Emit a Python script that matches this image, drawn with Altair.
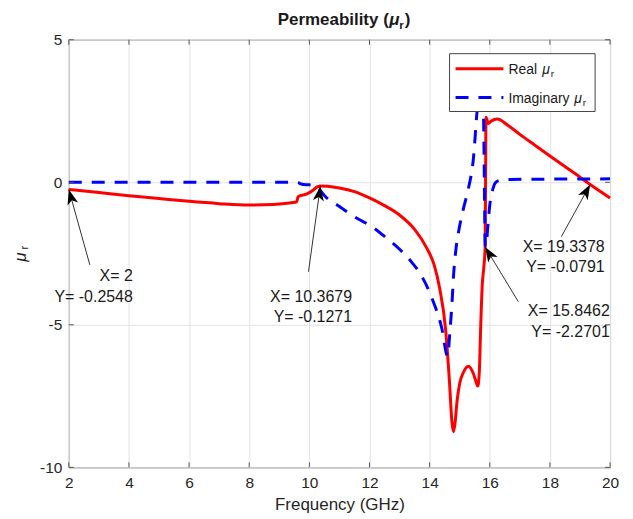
import math
import altair as alt
import pandas as pd

# ---------------- data ----------------
real_x = [2, 3, 4, 5, 6, 7, 8, 8.8, 9.4, 9.58, 9.62, 9.68, 9.9, 10.1, 10.25, 10.3679,
          10.6, 11, 11.5, 12, 12.5, 13, 13.5, 13.9, 14.15, 14.33, 14.53, 14.66, 14.74,
          14.79, 14.84, 14.91, 15.0, 15.11, 15.29, 15.45, 15.53, 15.6, 15.65, 15.7, 15.75,
          15.8, 15.8462, 15.86, 15.875, 15.95, 16.05, 16.25, 16.6, 17.0, 17.5, 18.0, 18.5,
          19.0, 19.3378, 20]
real_y = [-0.2548, -0.36, -0.47, -0.57, -0.67, -0.75, -0.8, -0.78, -0.72, -0.69, -0.52,
          -0.48, -0.42, -0.3, -0.17, -0.1271, -0.14, -0.2, -0.33, -0.55, -0.82, -1.15,
          -1.65, -2.3, -2.9, -3.7, -5.15, -7.0, -8.4, -8.75, -8.5, -7.7, -7.05, -6.7,
          -6.45, -6.7, -6.95, -7.15, -6.7, -5.0, -3.6, -3.0, -2.2701, 0.0, 2.28, 2.06,
          2.15, 2.22, 2.0, 1.68, 1.3, 0.92, 0.55, 0.18, -0.0791, -0.55]

imag_x = [2, 9.55, 9.65, 9.72, 9.8, 10.0, 10.2, 10.37, 10.53, 11.0, 11.64, 12.0, 12.5,
          13.0, 13.4, 13.74, 14.07, 14.4, 14.6, 14.67, 14.74, 14.8, 14.88, 14.96, 15.13,
          15.29, 15.46, 15.57, 15.66, 15.72, 15.78, 15.81, 15.83, 15.85, 15.88, 15.93,
          16.0, 16.1, 16.2, 16.35, 16.7, 18.0, 20.0]
imag_y = [0.0, 0.0, -0.02, -0.06, -0.08, -0.09, -0.13, -0.3, -0.5, -0.85, -1.3, -1.5,
          -1.9, -2.35, -2.8, -3.3, -4.05, -5.1, -6.1, -5.3, -4.3, -3.2, -2.3, -1.75,
          -0.9, -0.22, 0.88, 2.4, 3.4, 3.8, 3.0, 1.0, -1.0, -2.2, -2.25, -1.6, -0.8,
          -0.25, 0.0, 0.07, 0.1, 0.11, 0.12]

x_ticks = [2, 4, 6, 8, 10, 12, 14, 16, 18, 20]
y_ticks = [-10, -5, 0, 5]

# data tips
tip_x = [2, 10.3679, 19.3378, 15.8462]
tip_y = [-0.2548, -0.1271, -0.0791, -2.2701]
tail_x = [2.70, 9.97, 18.38, 16.95]
tail_y = [-2.90, -3.14, -1.91, -4.19]
label_x = [4.13, 11.42, 19.82, 19.99]
label1_y = [-3.29, -4.01, -2.26, -4.53]
label2_y = [-4.01, -4.71, -2.96, -5.27]
label1 = ["X= 2", "X= 10.3679", "X= 19.3378", "X= 15.8462"]
label2 = ["Y= -0.2548", "Y= -0.1271", "Y= -0.0791", "Y= -2.2701"]

# ---------------- layout ----------------
W, H = 543, 429
X0, X1, Y0, Y1 = 2, 20, -10, 5
FONT = "Liberation Sans"
AXC = "#555555"
LABEL_EXPR = "'' + datum.value"

xs = alt.Scale(domain=[X0, X1], nice=False, zero=False)
ys = alt.Scale(domain=[Y0, Y1], nice=False, zero=False)
xaxis = alt.Axis(values=x_ticks, title="Frequency (GHz)", grid=True, tickSize=0,
                 domain=False, labelPadding=8, titlePadding=6, labelFlush=False,
                 labelOverlap=False, labelExpr=LABEL_EXPR)
yaxis = alt.Axis(values=y_ticks, title="", grid=True, tickSize=0, domain=False,
                 labelPadding=7, labelOverlap=False, labelFlush=False, labelExpr=LABEL_EXPR)


def X(f="x"):
    return alt.X(f + ":Q", scale=xs, axis=xaxis)


def Y(f="y"):
    return alt.Y(f + ":Q", scale=ys, axis=yaxis)


df_real = pd.DataFrame({"x": real_x, "y": real_y})
df_imag = pd.DataFrame({"x": imag_x, "y": imag_y})
df_one = pd.DataFrame({"k": [0]})

# arrow angles in pixel space
pxg = W / (X1 - X0)
pyu = H / (Y1 - Y0)
angles = []
for tx, ty, sx, sy in zip(tip_x, tip_y, tail_x, tail_y):
    dx = (tx - sx) * pxg
    dy = -(ty - sy) * pyu
    angles.append(math.degrees(math.atan2(dx, -dy)) % 360)
df_arrow = pd.DataFrame({"x": tip_x, "y": tip_y, "x2": tail_x, "y2": tail_y, "angle": angles})
df_lab = pd.DataFrame({"x": label_x + label_x, "y": label1_y + label2_y, "t": label1 + label2})
df_xt = pd.DataFrame({"x": x_ticks})
df_yt = pd.DataFrame({"y": y_ticks})

real_line = alt.Chart(df_real).mark_line(color="#ff0000", strokeWidth=3,
                                         interpolate="monotone").encode(x=X(), y=Y())
imag_line = alt.Chart(df_imag).mark_line(color="#0000ff", strokeWidth=3, strokeDash=[13, 10],
                                         interpolate="monotone").encode(x=X(), y=Y())

arrow_lines = alt.Chart(df_arrow).mark_rule(color="#333333", strokeWidth=1).encode(
    x=X(), y=Y(), x2="x2:Q", y2="y2:Q")
ARROW = "M0,0 L0.55,1.5 L0,1.12 L-0.55,1.5 Z"
arrow_heads = alt.Chart(df_arrow).mark_point(shape=ARROW, filled=True, size=400, color="black",
                                             opacity=1, strokeWidth=0).encode(
    x=X(), y=Y(), angle=alt.Angle("angle:Q", scale=None))
tip_text = alt.Chart(df_lab).mark_text(align="right", baseline="middle", font=FONT,
                                       fontSize=16, color="#1a1a1a").encode(
    x=X(), y=Y(), text="t:N")

# inward ticks on all four sides
tick_b = alt.Chart(df_xt).mark_rule(color=AXC, strokeWidth=1).encode(
    x=X(), y=alt.value(H), y2=alt.value(H - 5))
tick_t = alt.Chart(df_xt).mark_rule(color=AXC, strokeWidth=1).encode(
    x=X(), y=alt.value(0), y2=alt.value(5))
tick_l = alt.Chart(df_yt).mark_rule(color=AXC, strokeWidth=1).encode(
    y=Y(), x=alt.value(0), x2=alt.value(5))
tick_r = alt.Chart(df_yt).mark_rule(color=AXC, strokeWidth=1).encode(
    y=Y(), x=alt.value(W), x2=alt.value(W - 5))

# legend
leg_box = alt.Chart(df_one).mark_rect(fill="white", stroke="#444444", strokeWidth=1).encode(
    x=alt.value(382), x2=alt.value(528), y=alt.value(14), y2=alt.value(72))
leg_real = alt.Chart(df_one).mark_rule(color="#ff0000", strokeWidth=3).encode(
    x=alt.value(388), x2=alt.value(436), y=alt.value(29))
leg_imag = alt.Chart(df_one).mark_rule(color="#0000ff", strokeWidth=3, strokeDash=[13, 10]).encode(
    x=alt.value(388), x2=alt.value(436), y=alt.value(58))


def txt(s, x, y, size, align="left", weight="normal", style="normal", angle=0, baseline="alphabetic"):
    return alt.Chart(df_one).mark_text(text=s, align=align, baseline=baseline, font=FONT,
                                       fontSize=size, fontWeight=weight, fontStyle=style,
                                       angle=angle, color="#1a1a1a").encode(
        x=alt.value(x), y=alt.value(y))


legend_texts = [
    txt("Real", 441, 34, 14),
    txt("μ", 475, 34, 14, style="italic"),
    txt("r", 483.5, 37.5, 10),
    txt("Imaginary", 441, 63, 14),
    txt("μ", 507, 63, 14, style="italic"),
    txt("r", 515.5, 66.5, 10),
]

title_texts = [
    txt("Permeability (", 321, -15, 17, align="right", weight="bold"),
    txt("μ", 321.5, -15, 17, weight="bold", style="italic"),
    txt("r", 331.5, -10.5, 11.5, weight="bold"),
    txt(")", 337, -15, 17, weight="bold"),
]

ytitle_texts = [
    txt("μ", -48, 218, 17, align="center", style="italic", angle=270, baseline="middle"),
    txt("r", -43.5, 208.5, 11, align="center", angle=270, baseline="middle"),
]

layers = [real_line, imag_line, arrow_lines, arrow_heads, tip_text,
          tick_b, tick_t, tick_l, tick_r, leg_box, leg_real, leg_imag] + \
    legend_texts + title_texts + ytitle_texts

chart = alt.layer(*layers).properties(
    width=W, height=H,
    autosize=alt.AutoSizeParams(type="none"),
    padding={"left": 61, "top": 31, "right": 15, "bottom": 50},
).configure_view(
    stroke=AXC, strokeWidth=1
).configure_axis(
    labelFont=FONT, labelFontSize=15.5, labelColor="#262626",
    titleFont=FONT, titleFontSize=17, titleFontWeight="normal", titleColor="#262626",
    gridColor="#e3e3e3", gridWidth=1, gridOpacity=1
)

chart.save("out.html", embed_options={"renderer": "svg", "actions": False})
